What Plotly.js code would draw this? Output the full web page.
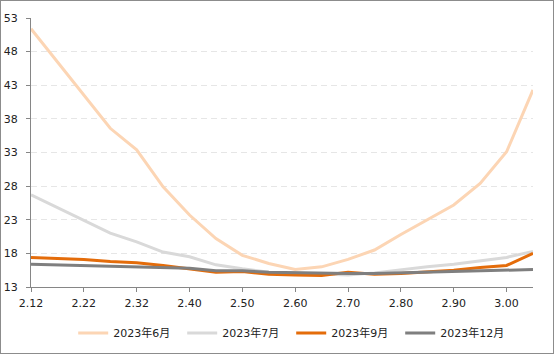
<!DOCTYPE html>
<html>
<head>
<meta charset="utf-8">
<script src="https://cdn.plot.ly/plotly-3.0.1.min.js"></script>
<style>
  html, body { margin: 0; padding: 0; background: #fff; }
  #frame { position: absolute; left: 0; top: 0; width: 552px; height: 352px; border: 1px solid #8c8c8c; }
  #chart { width: 552px; height: 352px; }
</style>
</head>
<body>
<div id="frame"><div id="chart"></div></div>
<script>
// Categories (strike levels)
const categories = ["2.12","2.17","2.22","2.27","2.32","2.35","2.40","2.45","2.50","2.55",
                    "2.60","2.65","2.70","2.75","2.80","2.85","2.90","2.95","3.00","3.05"];
const tickLabels = ["2.12","2.22","2.32","2.40","2.50","2.60","2.70","2.80","2.90","3.00"];

const seriesNames = ["2023年6月","2023年7月","2023年9月","2023年12月"];

const jun = [51.4, 46.5, 41.6, 36.6, 33.4, 27.9, 23.7, 20.2, 17.7, 16.5,
             15.6, 16.0, 17.1, 18.5, 20.8, 23.0, 25.2, 28.4, 33.1, 42.3];
const jul = [26.7, 24.8, 22.9, 21.0, 19.7, 18.2, 17.5, 16.3, 15.7, 15.2,
             15.1, 14.9, 14.8, 15.1, 15.6, 16.0, 16.4, 16.9, 17.4, 18.3];
const sep = [17.4, 17.3, 17.1, 16.8, 16.6, 16.2, 15.7, 15.2, 15.3, 14.9,
             14.8, 14.7, 15.2, 14.9, 15.0, 15.2, 15.5, 15.9, 16.2, 18.0];
const dec = [16.4, 16.3, 16.2, 16.1, 16.0, 15.9, 15.8, 15.4, 15.4, 15.2,
             15.1, 15.0, 15.0, 15.0, 15.1, 15.1, 15.2, 15.3, 15.4, 15.6];

const yTicks = [13, 18, 23, 28, 33, 38, 43, 48, 53];

const colors = ["#FCD5B4", "#D9D9D9", "#E46C0A", "#7F7F7F"];
const values = [jun, jul, sep, dec];

const font = "DejaVu Sans, Noto Sans CJK SC, sans-serif";

const traces = values.map((v, k) => ({
  type: "scatter",
  mode: "lines",
  name: seriesNames[k],
  x: categories,
  y: v,
  line: { color: colors[k], width: 3 },
  hoverinfo: "skip"
}));

const layout = {
  width: 552,
  height: 352,
  margin: { l: 30, r: 20, t: 17, b: 66, pad: 0 },
  paper_bgcolor: "#ffffff",
  plot_bgcolor: "#ffffff",
  font: { family: font, size: 11, color: "#333333" },
  showlegend: true,
  legend: {
    orientation: "h",
    xref: "container", yref: "container",
    x: 0.1308, xanchor: "left",
    y: 0.057, yanchor: "middle",
    font: { family: font, size: 11, color: "#222222" },
    entrywidth: 64, entrywidthmode: "pixels",
    bgcolor: "rgba(0,0,0,0)",
    itemclick: false
  },
  xaxis: {
    type: "category",
    categoryorder: "array",
    categoryarray: categories,
    range: [0, categories.length - 1],
    tickmode: "array",
    tickvals: tickLabels,
    ticktext: tickLabels,
    ticks: "outside",
    ticklen: 4,
    tickcolor: "#868686",
    showline: true,
    linecolor: "#868686",
    linewidth: 1,
    showgrid: false,
    zeroline: false,
    tickangle: 0,
    ticklabelstandoff: 2,
    automargin: false,
    tickfont: { family: font, size: 11, color: "#222222" }
  },
  yaxis: {
    range: [13, 53],
    tickmode: "array",
    tickvals: yTicks,
    ticktext: yTicks.map(String),
    ticks: "outside",
    ticklen: 4,
    tickcolor: "#868686",
    showline: true,
    linecolor: "#868686",
    linewidth: 1,
    showgrid: true,
    gridcolor: "#e6e6e6",
    griddash: "6px,4px",
    gridwidth: 1,
    zeroline: false,
    ticklabelstandoff: 6,
    automargin: false,
    tickfont: { family: font, size: 11, color: "#222222" }
  }
};

Plotly.newPlot("chart", traces, layout, { staticPlot: true, displayModeBar: false });
</script>
</body>
</html>
